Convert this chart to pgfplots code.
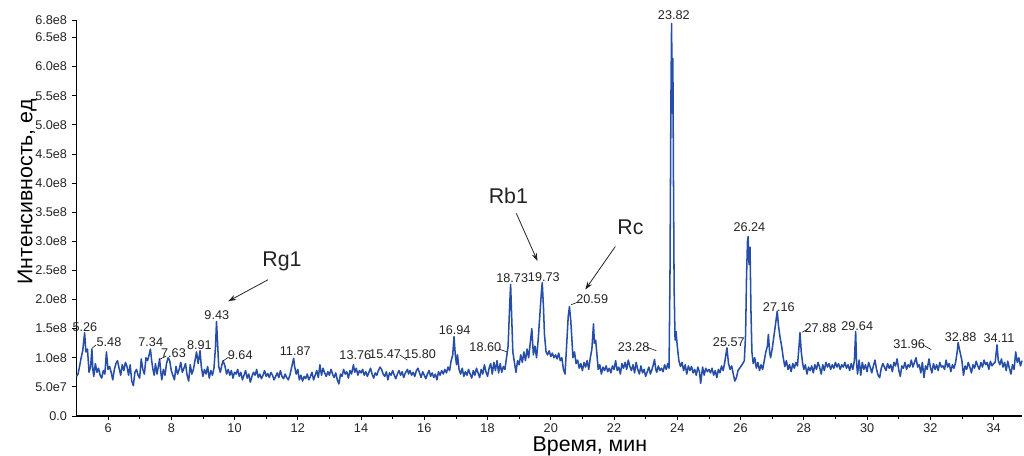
\documentclass[border=0pt]{standalone}
\usepackage{fontspec}
\setmainfont{Liberation Sans}
\usepackage{pgfplots}
\pgfplotsset{compat=1.18}
\usetikzlibrary{arrows.meta}
\definecolor{trace}{RGB}{38,78,168}
\definecolor{tl}{RGB}{35,35,35}
\begin{document}
\begin{tikzpicture}
\begin{axis}[
  name=ax,
  scale only axis,
  width=709.2pt, height=297pt,
  xmin=5, xmax=34.9, ymin=0, ymax=6.8,
  axis lines=left,
  axis line style={-,black,line width=0.8pt},
  clip=false,
  tick align=outside,
  major tick length=3pt, minor tick length=2pt,
  tick style={black,line width=0.6pt},
  xtick={6,8,...,34},
  minor x tick num=1,
  ytick={0,0.5,1,1.5,2,2.5,3,3.5,4,4.5,5,5.5,6,6.5,6.8},
  yticklabels={0.0,5.0e7,1.0e8,1.5e8,2.0e8,2.5e8,3.0e8,3.5e8,4.0e8,4.5e8,5.0e8,5.5e8,6.0e8,6.5e8,6.8e8},
  minor y tick num=4,
  /pgf/number format/assume math mode=true,
  tick label style={font=\fontsize{9.5}{10}\selectfont, text=tl},
  xticklabel style={yshift=1pt},
  yticklabel style={xshift=-0.5pt},
  xlabel={Время, мин},
  ylabel={Интенсивность, ед},
  label style={font=\fontsize{16}{18}\selectfont},
  xlabel style={at={(axis description cs:0.543,-0.052)}, anchor=north, inner sep=0pt},
  ylabel style={at={(axis description cs:-0.052,0.566)}, anchor=center, rotate=0},
]
\addplot[trace, line width=1.15pt, line join=round] coordinates {
(5.00,0.68)(5.05,0.72)(5.10,0.85)(5.15,1.00)(5.20,1.12)(5.26,1.43)(5.30,1.10)(5.35,1.15)(5.40,0.75)(5.45,0.85)(5.49,1.15)(5.52,0.80)(5.55,0.68)(5.60,0.90)(5.65,0.75)(5.70,0.82)(5.75,0.70)(5.80,0.65)(5.85,0.78)(5.90,0.72)(5.95,1.10)(6.00,0.80)
(6.05,0.85)(6.10,0.75)(6.15,0.62)(6.20,0.80)(6.25,0.90)(6.30,0.95)(6.35,0.82)(6.40,0.70)(6.45,0.88)(6.50,0.78)(6.55,0.92)(6.60,0.85)(6.65,0.70)(6.70,0.88)(6.75,0.60)(6.80,0.52)(6.85,0.75)(6.90,0.80)(6.95,0.70)(7.00,0.65)
(7.05,0.98)(7.10,0.80)(7.15,0.72)(7.20,1.00)(7.25,0.95)(7.30,1.05)(7.34,1.15)(7.38,0.95)(7.42,0.80)(7.46,0.70)(7.50,0.90)(7.55,0.72)(7.60,0.88)(7.63,0.98)(7.67,0.75)(7.70,0.62)(7.75,0.80)(7.80,0.70)(7.85,0.90)(7.90,1.00)(7.95,0.95)(8.00,0.78)
(8.05,0.70)(8.10,0.62)(8.15,0.85)(8.20,0.72)(8.25,0.80)(8.30,0.92)(8.35,0.75)(8.40,0.82)(8.45,0.90)(8.50,0.70)(8.55,0.60)(8.60,0.88)(8.65,0.72)(8.70,0.80)(8.75,0.95)(8.80,1.10)(8.85,0.90)(8.91,1.12)(8.95,0.85)(9.00,0.68)
(9.05,0.80)(9.10,0.72)(9.15,0.85)(9.20,0.65)(9.25,0.78)(9.30,0.70)(9.35,0.82)(9.40,1.20)(9.43,1.62)(9.46,1.30)(9.50,0.85)(9.55,0.75)(9.60,0.88)(9.64,0.95)(9.70,0.85)(9.75,0.72)(9.80,0.80)(9.85,0.70)(9.90,0.78)(9.95,0.65)(10.00,0.75)
(10.05,0.72)(10.10,0.80)(10.15,0.68)(10.20,0.75)(10.25,0.62)(10.30,0.70)(10.35,0.78)(10.40,0.65)(10.45,0.72)(10.50,0.58)(10.55,0.68)(10.60,0.75)(10.65,0.70)(10.70,0.80)(10.75,0.66)(10.80,0.72)(10.85,0.64)(10.90,0.70)(10.95,0.78)(11.00,0.68)
(11.05,0.73)(11.10,0.66)(11.15,0.75)(11.20,0.70)(11.25,0.62)(11.30,0.68)(11.35,0.74)(11.40,0.66)(11.45,0.78)(11.50,0.68)(11.55,0.64)(11.60,0.72)(11.65,0.66)(11.70,0.62)(11.75,0.70)(11.80,0.82)(11.84,0.92)(11.87,0.99)(11.90,0.85)(11.95,0.72)(12.00,0.80)
(12.05,0.62)(12.10,0.70)(12.15,0.60)(12.20,0.68)(12.25,0.64)(12.30,0.72)(12.35,0.62)(12.40,0.68)(12.45,0.75)(12.50,0.62)(12.55,0.70)(12.60,0.78)(12.65,0.66)(12.70,0.88)(12.75,0.70)(12.80,0.82)(12.85,0.74)(12.90,0.68)(12.95,0.76)(13.00,0.70)
(13.05,0.80)(13.10,0.72)(13.15,0.66)(13.20,0.74)(13.25,0.62)(13.30,0.55)(13.35,0.72)(13.40,0.68)(13.45,0.80)(13.50,0.72)(13.55,0.76)(13.60,0.65)(13.65,0.78)(13.70,0.72)(13.76,0.88)(13.80,0.75)(13.85,0.82)(13.90,0.70)(13.95,0.78)(14.00,0.74)
(14.05,0.80)(14.10,0.70)(14.15,0.76)(14.20,0.68)(14.25,0.75)(14.30,0.82)(14.35,0.72)(14.40,0.65)(14.45,0.74)(14.50,0.70)(14.55,0.78)(14.60,0.84)(14.65,0.80)(14.70,0.72)(14.75,0.68)(14.80,0.76)(14.85,0.62)(14.90,0.74)(14.95,0.70)(15.00,0.78)
(15.05,0.70)(15.10,0.64)(15.15,0.72)(15.20,0.78)(15.25,0.70)(15.30,0.76)(15.35,0.66)(15.40,0.74)(15.47,0.80)(15.50,0.72)(15.55,0.78)(15.60,0.70)(15.65,0.75)(15.70,0.68)(15.75,0.78)(15.80,0.82)(15.85,0.74)(15.90,0.66)(15.95,0.76)(16.00,0.70)
(16.05,0.64)(16.10,0.72)(16.15,0.78)(16.20,0.68)(16.25,0.74)(16.30,0.66)(16.35,0.72)(16.40,0.62)(16.45,0.76)(16.50,0.70)(16.55,0.78)(16.60,0.72)(16.65,0.80)(16.70,0.74)(16.75,0.84)(16.80,0.78)(16.85,0.95)(16.90,1.05)(16.94,1.36)(16.98,1.05)
(17.02,0.88)(17.05,1.05)(17.10,0.80)(17.15,0.72)(17.20,0.82)(17.25,0.68)(17.30,0.76)(17.35,0.70)(17.40,0.80)(17.45,0.72)(17.50,0.65)(17.55,0.78)(17.60,0.70)(17.65,0.82)(17.70,0.74)(17.75,0.66)(17.80,0.80)(17.85,0.72)(17.90,0.88)(17.95,0.76)(18.00,0.68)
(18.05,0.82)(18.10,0.90)(18.15,0.72)(18.20,0.92)(18.25,0.78)(18.30,0.95)(18.35,0.74)(18.40,0.90)(18.45,0.75)(18.50,0.85)(18.55,0.80)(18.60,1.00)(18.65,1.20)(18.70,1.90)(18.73,2.26)(18.77,1.60)(18.80,1.10)(18.85,0.92)(18.90,0.75)(18.95,0.95)(19.00,0.88)
(19.05,1.05)(19.10,0.92)(19.15,1.10)(19.20,0.95)(19.25,1.15)(19.30,1.00)(19.35,1.25)(19.40,1.50)(19.45,1.05)(19.50,1.20)(19.55,1.00)(19.60,1.30)(19.65,1.70)(19.70,2.10)(19.73,2.29)(19.77,1.85)(19.80,1.40)(19.85,1.10)(19.90,1.05)(19.95,1.12)(20.00,1.02)
(20.05,1.08)(20.10,1.00)(20.15,1.05)(20.20,0.98)(20.25,1.08)(20.30,0.95)(20.35,1.00)(20.40,0.80)(20.45,0.72)(20.50,1.20)(20.55,1.70)(20.59,1.88)(20.63,1.65)(20.67,1.30)(20.70,1.00)(20.75,1.10)(20.80,0.90)(20.85,0.96)(20.90,0.82)(20.95,0.90)(21.00,0.78)
(21.05,0.92)(21.10,0.84)(21.15,0.95)(21.20,0.80)(21.25,1.00)(21.30,1.15)(21.35,1.58)(21.38,1.25)(21.42,1.30)(21.46,1.05)(21.50,0.80)(21.55,0.88)(21.60,0.72)(21.65,0.84)(21.70,0.78)(21.75,0.86)(21.80,0.76)(21.85,0.82)(21.90,0.74)(21.95,0.86)(22.00,0.80)
(22.05,0.95)(22.10,0.78)(22.15,0.84)(22.20,0.72)(22.25,0.90)(22.30,0.82)(22.35,0.92)(22.40,0.80)(22.45,0.96)(22.50,0.85)(22.55,0.78)(22.60,0.88)(22.65,0.74)(22.70,0.92)(22.75,0.80)(22.80,0.72)(22.85,0.86)(22.90,0.74)(22.95,0.80)(23.00,0.68)
(23.05,0.76)(23.10,0.84)(23.15,0.72)(23.20,0.80)(23.25,0.90)(23.28,0.97)(23.32,0.80)(23.35,0.75)(23.40,0.86)(23.45,0.78)(23.50,0.82)(23.55,0.76)(23.60,0.88)(23.65,0.80)(23.70,0.90)(23.74,0.82)(23.77,2.50)(23.80,5.50)(23.82,6.74)(23.84,5.20)(23.86,6.14)(23.88,4.00)(23.90,2.20)(23.93,1.30)(23.96,1.45)(24.00,1.20)
(24.05,0.95)(24.10,0.85)(24.15,0.92)(24.20,0.78)(24.25,0.88)(24.30,0.72)(24.35,0.86)(24.40,0.78)(24.45,0.85)(24.50,0.74)(24.55,0.80)(24.60,0.70)(24.65,0.84)(24.70,0.76)(24.74,0.56)(24.80,0.84)(24.85,0.70)(24.90,0.82)(24.95,0.76)(25.00,0.80)
(25.05,0.74)(25.10,0.82)(25.15,0.70)(25.20,0.78)(25.25,0.66)(25.30,0.80)(25.35,0.74)(25.40,0.86)(25.45,0.78)(25.50,0.92)(25.57,1.17)(25.62,0.90)(25.67,0.80)(25.72,0.86)(25.77,0.72)(25.82,0.60)(25.87,0.66)(25.92,0.78)(25.97,0.82)(26.02,0.86)
(26.07,0.90)(26.12,0.95)(26.16,1.40)(26.19,2.40)(26.22,3.00)(26.24,3.08)(26.27,2.60)(26.30,2.90)(26.33,1.80)(26.36,1.10)(26.40,0.90)(26.45,1.00)(26.50,0.82)(26.55,0.92)(26.60,0.78)(26.65,0.88)(26.70,0.80)(26.75,0.95)(26.80,1.10)(26.85,1.20)(26.88,1.40)(26.92,1.10)(26.95,1.00)
(27.00,1.15)(27.05,1.35)(27.10,1.55)(27.16,1.80)(27.20,1.55)(27.25,1.35)(27.30,1.20)(27.35,1.00)(27.40,0.85)(27.45,0.95)(27.50,0.80)(27.55,0.88)(27.60,0.76)(27.65,0.90)(27.70,0.82)(27.75,0.92)(27.80,0.86)(27.85,1.20)(27.88,1.43)(27.92,1.10)(27.96,0.92)(28.00,0.80)
(28.05,0.88)(28.10,0.72)(28.15,0.84)(28.20,0.78)(28.25,0.86)(28.30,0.74)(28.35,0.88)(28.40,0.80)(28.45,0.92)(28.50,0.84)(28.55,0.72)(28.60,0.88)(28.65,0.78)(28.70,0.92)(28.75,0.84)(28.80,0.90)(28.85,0.80)(28.90,0.88)(28.95,0.82)(29.00,0.92)
(29.05,0.84)(29.10,0.90)(29.15,0.80)(29.20,0.88)(29.25,0.84)(29.30,0.92)(29.35,0.82)(29.40,0.88)(29.45,0.78)(29.50,0.90)(29.55,0.80)(29.60,0.95)(29.64,1.45)(29.67,0.90)(29.70,0.72)(29.75,0.96)(29.80,0.70)(29.85,0.92)(29.90,0.80)(29.95,0.88)(30.00,0.76)
(30.05,0.92)(30.10,0.84)(30.15,0.74)(30.20,0.86)(30.25,0.96)(30.30,0.80)(30.35,0.70)(30.40,0.66)(30.45,0.82)(30.50,0.90)(30.55,0.84)(30.60,0.78)(30.65,0.90)(30.70,0.82)(30.75,0.88)(30.80,0.76)(30.85,0.92)(30.90,0.86)(30.95,0.98)(31.00,0.80)
(31.05,0.68)(31.10,0.86)(31.15,0.82)(31.20,0.92)(31.25,0.80)(31.30,0.88)(31.35,0.84)(31.40,0.96)(31.45,0.84)(31.50,0.92)(31.55,1.00)(31.60,0.84)(31.65,0.88)(31.70,0.74)(31.75,0.92)(31.80,0.66)(31.85,0.86)(31.90,0.80)(31.96,0.98)(32.00,0.84)
(32.05,0.74)(32.10,0.90)(32.15,0.80)(32.20,0.88)(32.25,0.78)(32.30,0.92)(32.35,0.84)(32.40,0.86)(32.45,0.80)(32.50,0.96)(32.55,0.84)(32.60,0.90)(32.65,0.76)(32.70,0.88)(32.75,0.82)(32.80,0.92)(32.85,1.10)(32.88,1.26)(32.92,1.15)(32.96,1.05)(33.00,0.95)
(33.05,0.70)(33.10,0.86)(33.15,0.80)(33.20,0.92)(33.25,0.84)(33.30,0.74)(33.35,0.88)(33.40,0.82)(33.45,0.94)(33.50,0.86)(33.55,0.80)(33.60,0.92)(33.65,0.84)(33.70,0.96)(33.75,0.88)(33.80,0.92)(33.85,0.80)(33.90,0.94)(33.95,0.86)(34.00,0.90)
(34.05,0.92)(34.11,1.22)(34.15,0.95)(34.20,0.88)(34.25,0.98)(34.30,0.84)(34.35,0.92)(34.40,0.78)(34.45,0.94)(34.50,0.82)(34.55,0.72)(34.60,0.88)(34.65,0.80)(34.70,1.10)(34.75,0.92)(34.80,1.00)(34.85,0.86)(34.90,0.95)
};
% peak labels
\begin{scope}[every node/.style={font=\fontsize{9.5}{10}\selectfont, text=tl, inner sep=0pt}]
\node at (axis cs:5.27,1.53) {5.26};
\node at (axis cs:6.03,1.26) {5.48};
\node at (axis cs:7.35,1.26) {7.34};
\node at (axis cs:8.07,1.08) {7.63};
\node at (axis cs:8.89,1.22) {8.91};
\node at (axis cs:9.44,1.74) {9.43};
\node at (axis cs:10.18,1.05) {9.64};
\node at (axis cs:11.92,1.11) {11.87};
\node at (axis cs:13.82,1.05) {13.76};
\node at (axis cs:14.76,1.06) {15.47};
\node at (axis cs:15.87,1.06) {15.80};
\node at (axis cs:16.96,1.48) {16.94};
\node at (axis cs:17.93,1.18) {18.60};
\node at (axis cs:18.78,2.36) {18.73};
\node at (axis cs:19.78,2.38) {19.73};
\node at (axis cs:21.31,2.00) {20.59};
\node at (axis cs:22.62,1.19) {23.28};
\node at (axis cs:23.89,6.88) {23.82};
\node at (axis cs:25.63,1.26) {25.57};
\node at (axis cs:26.28,3.24) {26.24};
\node at (axis cs:27.21,1.87) {27.16};
\node at (axis cs:28.53,1.51) {27.88};
\node at (axis cs:29.69,1.55) {29.64};
\node at (axis cs:31.33,1.24) {31.96};
\node at (axis cs:32.96,1.36) {32.88};
\node at (axis cs:34.17,1.34) {34.11};
\end{scope}
% leader lines
\begin{scope}[black, line width=0.4pt]
\draw (axis cs:5.49,1.16) -- (axis cs:5.62,1.22);
\draw (axis cs:7.62,0.97) -- (axis cs:7.84,1.03);
\draw (axis cs:9.65,0.95) -- (axis cs:9.81,1.01);
\draw (axis cs:15.22,1.05) -- (axis cs:15.46,0.96);
\draw (axis cs:18.35,1.15) -- (axis cs:18.62,1.10);
\draw (axis cs:20.64,1.91) -- (axis cs:20.83,1.95);
\draw (axis cs:23.05,1.18) -- (axis cs:23.34,1.12);
\draw (axis cs:27.95,1.44) -- (axis cs:28.13,1.49);
\draw (axis cs:31.80,1.21) -- (axis cs:32.03,1.14);
\end{scope}
% annotations
\node[font=\fontsize{16}{16}\selectfont, text=tl] at (axis cs:11.50,2.66) {Rg1};
\node[font=\fontsize{16}{16}\selectfont, text=tl] at (axis cs:18.66,3.78) {Rb1};
\node[font=\fontsize{16}{16}\selectfont, text=tl] at (axis cs:22.52,3.24) {Rc};
\draw[-{Stealth[length=6pt,width=4pt]}, line width=0.6pt, tl] (axis cs:11.06,2.34) -- (axis cs:9.80,1.97);
\draw[-{Stealth[length=6pt,width=4pt]}, line width=0.6pt, tl] (axis cs:18.91,3.48) -- (axis cs:19.58,2.66);
\draw[-{Stealth[length=6pt,width=4pt]}, line width=0.6pt, tl] (axis cs:22.04,2.91) -- (axis cs:21.09,2.17);
\end{axis}
\pgfresetboundingbox
\path (ax.south west) ++(-57.3pt,-30pt) coordinate (bl);
\path (ax.north east) ++(1.5pt,15pt) coordinate (tr);
\path[use as bounding box] (bl) rectangle (tr);
\end{tikzpicture}
\end{document}
